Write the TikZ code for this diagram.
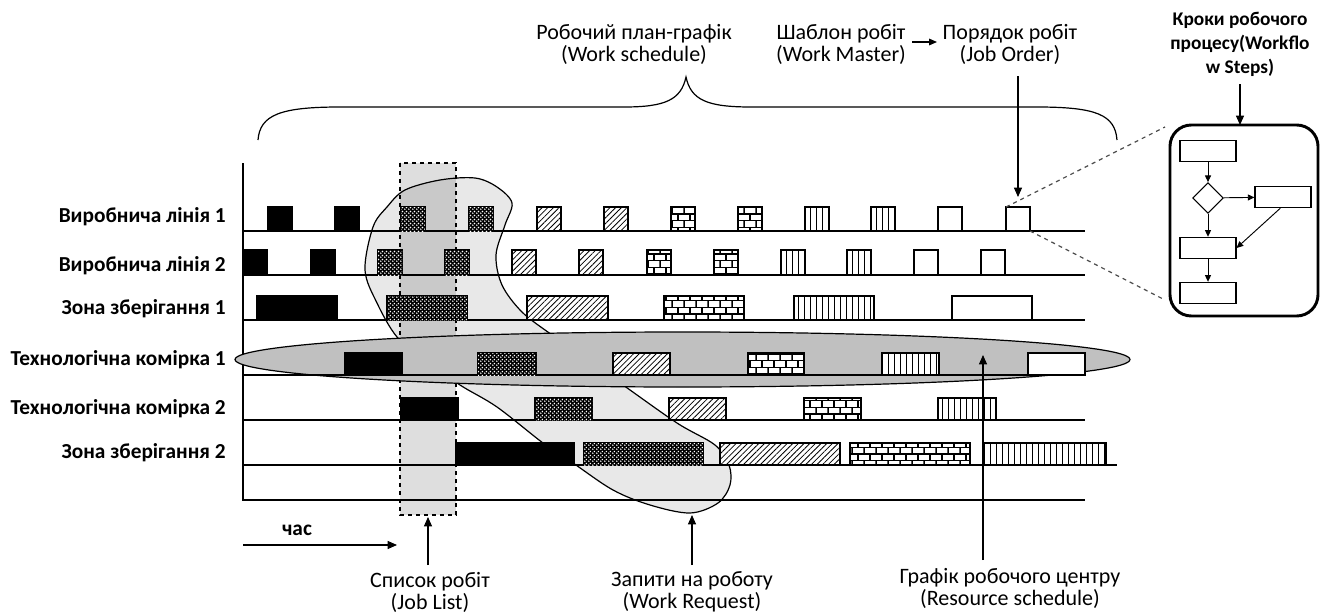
\documentclass[tikz,border=0pt]{standalone}
\usepackage{fontspec}
\setmainfont{Carlito}
\usetikzlibrary{patterns,patterns.meta,arrows.meta,shapes.geometric}
\pgfdeclarepatternformonly{mybricks}{\pgfpoint{-0.5pt}{-0.5pt}}{\pgfpoint{9.5pt}{10.5pt}}{\pgfpoint{9pt}{10pt}}{%
  \pgfsetlinewidth{0.8pt}%
  \pgfpathmoveto{\pgfpoint{0pt}{0pt}}\pgfpathlineto{\pgfpoint{9pt}{0pt}}%
  \pgfpathmoveto{\pgfpoint{0pt}{5pt}}\pgfpathlineto{\pgfpoint{9pt}{5pt}}%
  \pgfpathmoveto{\pgfpoint{0pt}{0pt}}\pgfpathlineto{\pgfpoint{0pt}{5pt}}%
  \pgfpathmoveto{\pgfpoint{4.5pt}{5pt}}\pgfpathlineto{\pgfpoint{4.5pt}{10pt}}%
  \pgfusepath{stroke}}
\pgfdeclarepatternformonly{wdots}{\pgfpoint{0pt}{0pt}}{\pgfpoint{3pt}{3pt}}{\pgfpoint{3pt}{3pt}}{%
  \pgfpathcircle{\pgfpoint{0.75pt}{0.75pt}}{0.74pt}%
  \pgfpathcircle{\pgfpoint{2.25pt}{2.25pt}}{0.74pt}%
  \pgfusepath{fill}}
\definecolor{blobgray}{HTML}{E8E8E8}
\definecolor{ellgray}{HTML}{C0C0C0}
\tikzset{
  lbl/.style={font=\bfseries\fontsize{16}{18}\selectfont, anchor=east, inner sep=0pt},
  captxt/.style={font=\fontsize{16.5}{16.5}\selectfont, align=center, inner sep=0pt},
  bcaptxt/.style={font=\bfseries\fontsize{14.5}{18}\selectfont, align=center, inner sep=0pt},
  rowline/.style={line width=1pt},
  jb/.style={draw, line width=0.9pt, fill=white},
  blk/.style={draw, line width=0.9pt, fill=black},
  dts/.style={draw, line width=0.9pt, fill=black, postaction={pattern=wdots, pattern color=white}},
  hat/.style={jb, postaction={pattern={Lines[angle=45,distance=3pt,line width=0.6pt]}}},
  brk/.style={jb, postaction={pattern=mybricks}},
  vln/.style={jb, postaction={pattern={Lines[angle=90,distance=4.5pt,line width=0.7pt]}}},
  emp/.style={jb},
  arr/.style={-{Triangle[length=7pt,width=6pt]}, line width=0.8pt},
  sarr/.style={-{Triangle[length=5pt,width=4.5pt]}, line width=0.7pt},
  fbox/.style={draw, line width=0.8pt, minimum width=42pt, minimum height=16pt, inner sep=0pt},
}
\begin{document}
\begin{tikzpicture}[x=0.75pt, y=-0.75pt]
\useasboundingbox (0,0) rectangle (1322,614);
% work request blob
\draw[fill=blobgray, line width=0.9pt] plot[smooth cycle, tension=0.55] coordinates {
 (475,178) (497,187) (512,203) (505,225) (496,255) (502,285) (522,312) (552,335)
 (590,362) (623,385) (677,423) (715,445) (729,465) (730,485) (718,503) (690,513)
 (650,505) (613,490) (573,463) (543,443) (497,407) (460,385) (425,360) (397,337)
 (377,303) (365,270) (373,227) (387,207) (405,190) (440,180)};
% job list rectangle
\draw[dashed, line width=0.9pt, fill=black, fill opacity=0.13] (400,163) rectangle (456,515);
% axis and row lines
\draw[rowline] (243,163) -- (243,500) -- (1085,500);
\foreach \y in {231,275,320,420} \draw[rowline] (243,\y) -- (1085,\y);
\draw[rowline] (243,465) -- (1117,465);
% row 1
\foreach \x/\s in {268/blk,335/blk,401/dts,469/dts,537/hat,604/hat,671/brk,738/brk,805/vln,871/vln,938/emp,1006/emp}
  \draw[\s] (\x,207) rectangle ++(24,24);
% row 2
\foreach \x/\s in {243/blk,311/blk,378/dts,445/dts,512/hat,579/hat,647/brk,714/brk,781/vln,847/vln,914/emp,981/emp}
  \draw[\s] (\x,250) rectangle ++(24,25);
% row 3
\foreach \a/\b/\s in {257/337/blk,387/467/dts,527/608/hat,664/744/brk,794/874/vln,952/1032/emp}
  \draw[\s] (\a,296) rectangle (\b,320);
% row 5
\foreach \a/\b/\s in {401/458/blk,535/592/dts,669/726/hat,804/861/brk,938/996/vln}
  \draw[\s] (\a,398) rectangle (\b,420);
% row 6
\foreach \a/\b/\s in {456/574/blk,584/703/dts,720/840/hat,850/970/brk,984/1106/vln}
  \draw[\s] (\a,443) rectangle (\b,465);
% resource ellipse
\draw[fill=ellgray, line width=0.9pt] (682.5,359.5) ellipse [x radius=447.5, y radius=27.5];
\draw[rowline] (243,375) -- (1085,375);
\foreach \a/\b/\s in {345/402/blk,478/536/dts,613/670/hat,748/804/brk,882/939/vln,1028/1085/emp}
  \draw[\s] (\a,353) rectangle (\b,375);
% row labels
\node[lbl] (l1) at (226,217) {Виробнича лінія 1};
\node[lbl] (l2) at (226,266) {Виробнича лінія 2};
\node[lbl] (l3) at (226,309) {Зона зберігання 1};
\node[lbl] (l4) at (226,360) {Технологічна комірка 1};
\node[lbl] (l5) at (226,409) {Технологічна комірка 2};
\node[lbl] (l6) at (226,453) {Зона зберігання 2};
% brace
\draw[line width=0.9pt] (258,140) .. controls (260,115) and (280,107) .. (340,107) -- (624,107)
  .. controls (665,107) and (681,100) .. (686,77) .. controls (691,100) and (707,107) .. (751,107)
  -- (1037,107) .. controls (1097,107) and (1115,115) .. (1117,140);
% top labels
\node[captxt] (ws) at (634,44) {Робочий план-графік\\(Work schedule)};
\node[captxt] (wm) at (841,44) {Шаблон робіт\\(Work Master)};
\node[captxt] (jo) at (1010,44) {Порядок робіт\\(Job Order)};
\coordinate (wma) at (912,42);
\coordinate (joa) at (937,42);
\draw[-{Triangle[length=6pt,width=5pt]}, line width=0.8pt] (wma) -- (joa);
\coordinate (jos) at (1018,76);
\coordinate (joend) at (1018,197);
\draw[arr] (jos) -- (joend);
% workflow steps
\node[bcaptxt] (wf) at (1240,44) {Кроки робочого\\процесу(Workflo\\w Steps)};
\draw[line width=2.2pt, rounded corners=16pt] (1170,125) rectangle (1318,316);
\coordinate (wfs) at (1240,84);
\coordinate (wftop) at (1240,125);
\draw[arr] (wfs) -- (wftop);
\node[fbox] (r1) at (1208,151) {};
\node[draw, line width=0.8pt, diamond, minimum width=23pt, minimum height=23pt, inner sep=0pt] (dm) at (1208,198) {};
\node[fbox] (r2) at (1283,197) {};
\node[fbox] (r3) at (1208,248) {};
\node[fbox] (r4) at (1208,293) {};
\draw[sarr] (r1) -- (dm);
\draw[sarr] (dm) -- (r2);
\draw[sarr] (dm) -- (r3);
\draw[sarr] ([xshift=-2pt]r2.south) -- (r3.east);
\draw[sarr] (r3) -- (r4);
% zoom dashed lines
\coordinate (jotl) at (1006,207);
\coordinate (jobr) at (1030,231);
\coordinate (wftl) at (1165,127);
\coordinate (wfbl) at (1165,300);
\draw[dashed, line width=0.9pt, gray!60!black] (jotl) -- (wftl);
\draw[dashed, line width=0.9pt, gray!60!black] (jobr) -- (wfbl);
% time
\node[font=\bfseries\fontsize{16}{18}\selectfont, inner sep=0pt] (t) at (297,530) {час};
\coordinate (t1) at (243,545);
\coordinate (t2) at (397,545);
\draw[arr] (t1) -- (t2);
% bottom labels
\node[captxt] (jl) at (430,592) {Список робіт\\(Job List)};
\node[captxt] (wr) at (692,592) {Запити на роботу\\(Work Request)};
\node[captxt] (rs) at (1010,588) {Графік робочого центру\\(Resource schedule)};
\coordinate (jln) at (428,565);
\coordinate (jlend) at (428,517);
\coordinate (wrn) at (692,565);
\coordinate (wrend) at (692,515);
\coordinate (rsn) at (983,560);
\coordinate (rsend) at (983,355);
\draw[arr] (jln) -- (jlend);
\draw[arr] (wrn) -- (wrend);
\draw[arr] (rsn) -- (rsend);
\end{tikzpicture}
\end{document}
